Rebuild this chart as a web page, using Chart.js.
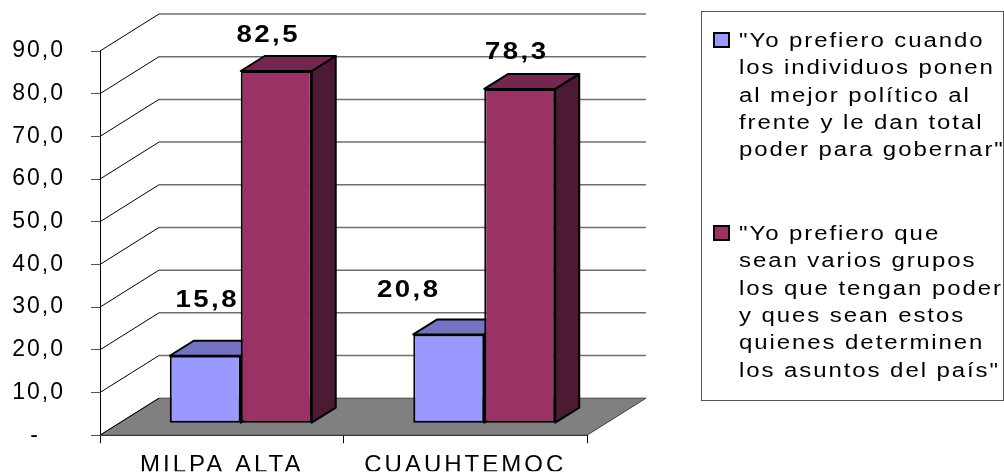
<!DOCTYPE html>
<html>
<head>
<meta charset="utf-8">
<script src="https://cdn.jsdelivr.net/npm/chart.js@4.4.1/dist/chart.umd.min.js"></script>
<style>
  html, body { margin: 0; padding: 0; background: #fff; }
  #wrap { width: 1004px; height: 475px; }
</style>
</head>
<body>
<div id="wrap"><canvas id="myChart" width="1004" height="475"></canvas></div>
<script>
// data
const categories = ['MILPA ALTA', 'CUAUHTEMOC'];
const individuosValues = [15.8, 20.8];
const gruposValues = [82.5, 78.3];
const yTickLabels = ['-', '10,0', '20,0', '30,0', '40,0', '50,0', '60,0', '70,0', '80,0', '90,0'];
const individuosLines = ['"Yo prefiero cuando', 'los individuos ponen', 'al mejor político al', 'frente y le dan total', 'poder para gobernar"'];
const gruposLines = ['"Yo prefiero que', 'sean varios grupos', 'los que tengan poder', 'y ques sean estos', 'quienes determinen', 'los asuntos del país"'];

// fake 3d geometry
const WALL_DX = 59, WALL_DY = -37;     // front axis -> back wall
const BAR_DX = 19, BAR_DY = -12;       // front axis -> front face of bars
const BOX_DX = 24, BOX_DY = -15;       // depth of one bar
const faceColors = [
  { front: '#9999FF', top: '#7373BF', side: '#4D4D80' },
  { front: '#993366', top: '#732650', side: '#4D1A33' }
];
// where excel put the value labels, relative to the top of the bar front
const labelNudge = [[[2, -57], [-40, -45]], [[-8, -37], [-3, -38]]];

Chart.defaults.font.family = "'Liberation Sans', Arial, sans-serif";

const fmt = v => v.toFixed(1).replace('.', ',');

function poly(ctx, pts, fill) {
  ctx.beginPath();
  ctx.moveTo(pts[0][0], pts[0][1]);
  for (let i = 1; i < pts.length; i++) ctx.lineTo(pts[i][0], pts[i][1]);
  ctx.closePath();
  ctx.fillStyle = fill;
  ctx.fill();
  ctx.stroke();
}

function stretchedText(ctx, txt, x, y, sx, spacing, align) {
  ctx.save();
  ctx.translate(x, y);
  ctx.scale(sx, 1);
  ctx.letterSpacing = spacing;
  ctx.textAlign = align;
  ctx.fillText(txt, 0, 0);
  ctx.restore();
}

const fakeDepth = {
  id: 'fakeDepth',
  beforeDraw(chart) {
    const spacing = { x: '3px', y: '2px' };
    Object.keys(spacing).forEach(id => {
      const s = chart.scales[id];
      if (s._spaced) return;
      const orig = s.drawLabels;
      s.drawLabels = function (area) {
        const prev = this.ctx.letterSpacing;
        this.ctx.letterSpacing = spacing[id];
        orig.call(this, area);
        this.ctx.letterSpacing = prev;
      };
      s._spaced = true;
    });
  },
  beforeDatasetsDraw(chart) {
    const { ctx, chartArea: a, scales: { y } } = chart;
    const y0 = y.getPixelForValue(0);

    ctx.save();
    // floor
    ctx.strokeStyle = '#404040';
    ctx.lineWidth = 1;
    poly(ctx, [[a.left, y0], [a.right, y0], [a.right + WALL_DX, y0 + WALL_DY], [a.left + WALL_DX, y0 + WALL_DY]], '#808080');

    // back wall + side wall grid
    y.ticks.forEach(t => {
      const py = y.getPixelForValue(t.value);
      if (t.value > 0) {
        ctx.beginPath();
        ctx.moveTo(a.left + WALL_DX, py + WALL_DY);
        ctx.lineTo(a.right + WALL_DX, py + WALL_DY);
        ctx.strokeStyle = '#6e6e6e';
        ctx.lineWidth = 1.5;
        ctx.stroke();
      }
      ctx.beginPath();
      ctx.moveTo(a.left, py);
      ctx.lineTo(a.left + WALL_DX, py + WALL_DY);
      ctx.strokeStyle = '#000';
      ctx.lineWidth = 1;
      ctx.stroke();
    });
    ctx.restore();

    // bars: sides and tops first, chart.js draws the front faces over them
    ctx.save();
    ctx.translate(BAR_DX, BAR_DY);
    ctx.strokeStyle = '#000';
    ctx.lineWidth = 2;
    ctx.lineJoin = 'round';
    chart.data.datasets.forEach((ds, i) => {
      chart.getDatasetMeta(i).data.forEach(bar => {
        const { x, y: top, base, width } = bar.getProps(['x', 'y', 'base', 'width'], true);
        const l = x - width / 2, r = x + width / 2;
        poly(ctx, [[r, top], [r + BOX_DX, top + BOX_DY], [r + BOX_DX, base + BOX_DY], [r, base]], faceColors[i].side);
        poly(ctx, [[l, top], [r, top], [r + BOX_DX, top + BOX_DY], [l + BOX_DX, top + BOX_DY]], faceColors[i].top);
      });
    });
  },
  afterDatasetsDraw(chart) {
    const ctx = chart.ctx;
    ctx.restore();

    // value labels
    ctx.save();
    ctx.fillStyle = '#000';
    ctx.font = "bold 23px 'Liberation Sans', Arial, sans-serif";
    ctx.textBaseline = 'alphabetic';
    chart.data.datasets.forEach((ds, i) => {
      chart.getDatasetMeta(i).data.forEach((bar, j) => {
        const n = labelNudge[i][j];
        const cx = bar.x + BAR_DX + n[0];
        const cy = bar.y + BAR_DY + n[1];
        stretchedText(ctx, fmt(ds.data[j]), cx, cy + 8, 1.2, '2px', 'center');
      });
    });
    ctx.restore();

    // legend
    ctx.save();
    ctx.strokeStyle = '#555';
    ctx.lineWidth = 1;
    ctx.strokeRect(701.5, 11.5, 302, 389);
    ctx.font = "20px 'Liberation Sans', Arial, sans-serif";
    ctx.textBaseline = 'alphabetic';
    const entries = [
      { lines: individuosLines, top: 47, color: faceColors[0].front },
      { lines: gruposLines, top: 240, color: faceColors[1].front }
    ];
    entries.forEach(e => {
      ctx.fillStyle = e.color;
      ctx.fillRect(714, e.top - 14, 15, 14);
      ctx.strokeStyle = '#000';
      ctx.lineWidth = 2;
      ctx.strokeRect(714, e.top - 14, 15, 14);
      ctx.fillStyle = '#000';
      e.lines.forEach((ln, k) => {
        stretchedText(ctx, ln, 739, e.top + k * 27.3, 1.2, '1.6px', 'left');
      });
    });
    ctx.restore();
  }
};

const canvasElement = document.getElementById('myChart');

const config = {
  type: 'bar',
  data: {
    labels: categories,
    datasets: [
      {
        label: individuosLines.join(' '),
        data: individuosValues,
        backgroundColor: faceColors[0].front,
        borderColor: '#000',
        borderWidth: 2,
        borderSkipped: false,
        clip: false
      },
      {
        label: gruposLines.join(' '),
        data: gruposValues,
        backgroundColor: faceColors[1].front,
        borderColor: '#000',
        borderWidth: 2,
        borderSkipped: false,
        clip: false
      }
    ]
  },
  options: {
    responsive: false,
    devicePixelRatio: 1,
    animation: false,
    categoryPercentage: 0.583,
    barPercentage: 1,
    layout: { padding: { left: 0, top: 51, right: 417, bottom: 0 } },
    plugins: {
      legend: { display: false },
      tooltip: { enabled: false }
    },
    scales: {
      x: {
        z: 1,
        grid: { offset: true, drawOnChartArea: false, tickLength: 8, color: '#000' },
        border: { color: '#000', width: 1 },
        ticks: { color: '#000', font: { size: 24 }, padding: 8, maxRotation: 0, autoSkip: false },
        afterFit: s => { s.height = 36; }
      },
      y: {
        z: 1,
        min: 0,
        max: 90,
        grid: { drawOnChartArea: false, tickLength: 9, color: '#555' },
        border: { color: '#000', width: 1 },
        ticks: {
          stepSize: 10,
          color: '#000',
          font: { size: 23 },
          padding: 26,
          callback: (v, i) => i === 0 ? yTickLabels[0] + '   ' : yTickLabels[i]
        },
        afterFit: s => { s.width = 100; }
      }
    }
  },
  plugins: [fakeDepth]
};

const myChart = new Chart(canvasElement, config);
</script>
</body>
</html>
